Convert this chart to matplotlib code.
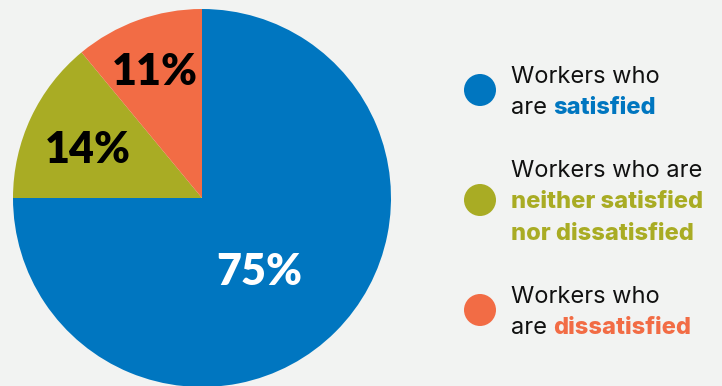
import numpy as np
import matplotlib.pyplot as plt
from matplotlib.patches import Circle

# data
groups = ['satisfied', 'neither', 'dissatisfied']
shares = [75, 14, 11]
pct_labels = ['75%', '14%', '11%']
colors = ['#0076c0', '#a9ac24', '#f26c45']
pct_colors = ['white', 'black', 'black']
legend_top = ['Workers who', 'Workers who are', 'Workers who']
legend_rest = [['are ', 'satisfied'],
               ['', 'neither satisfied', 'nor dissatisfied'],
               ['are ', 'dissatisfied']]

W, H = 722, 386
bg = '#f2f3f2'
fig = plt.figure(figsize=(W / 100, H / 100), dpi=100, facecolor=bg)
ax = fig.add_axes([0, 0, 1, 1])
ax.set_facecolor(bg)

def Y(y):
    return H - y

wedges, _ = ax.pie(shares, colors=colors, startangle=90, counterclock=False,
                   center=(202, Y(198)), radius=189,
                   wedgeprops=dict(linewidth=0))
ax.set_xlim(0, W)
ax.set_ylim(0, H)
ax.set_aspect('auto')
ax.axis('off')

# percentage labels inside slices (radius fraction, angle nudge)
label_r = [0.48, 0.663, 0.731]
label_da = [-6.2, 0.7, 0.0]
for w, lab, c, f, da in zip(wedges, pct_labels, pct_colors, label_r, label_da):
    mid = np.deg2rad((w.theta1 + w.theta2) / 2 + da)
    x = w.center[0] + f * w.r * np.cos(mid)
    y = w.center[1] + f * w.r * np.sin(mid)
    ax.text(x, y, lab, color=c, fontsize=31, fontweight='heavy',
            family='Lato', ha='center', va='center_baseline')

# legend
fam = 'Inter'
fs = 17
dot_y = [90, 200, 310]
first_base = [83, 177, 303]
line_gap = 31.5
txt_kw = dict(fontsize=fs, family=fam, color='#111111')
bold_kw = dict(fontsize=fs, family=fam, fontweight='heavy')
for i in range(3):
    ax.add_patch(Circle((480, Y(dot_y[i])), 16, color=colors[i], lw=0))
    ax.text(511, Y(first_base[i]), legend_top[i], va='baseline', **txt_kw)
    rest = legend_rest[i]
    if rest[0]:
        t = ax.text(511, Y(first_base[i] + line_gap), rest[0].strip(),
                    va='baseline', **txt_kw)
        ax.annotate(rest[1], xy=(1, 0), xycoords=t, xytext=(4.5, 0),
                    textcoords='offset points', va='bottom',
                    color=colors[i], **bold_kw)
    else:
        for j, s in enumerate(rest[1:]):
            ax.text(511, Y(first_base[i] + line_gap * (j + 1)), s,
                    va='baseline', color=colors[i], **bold_kw)

fig.savefig('out.png', dpi=100, facecolor=bg)
